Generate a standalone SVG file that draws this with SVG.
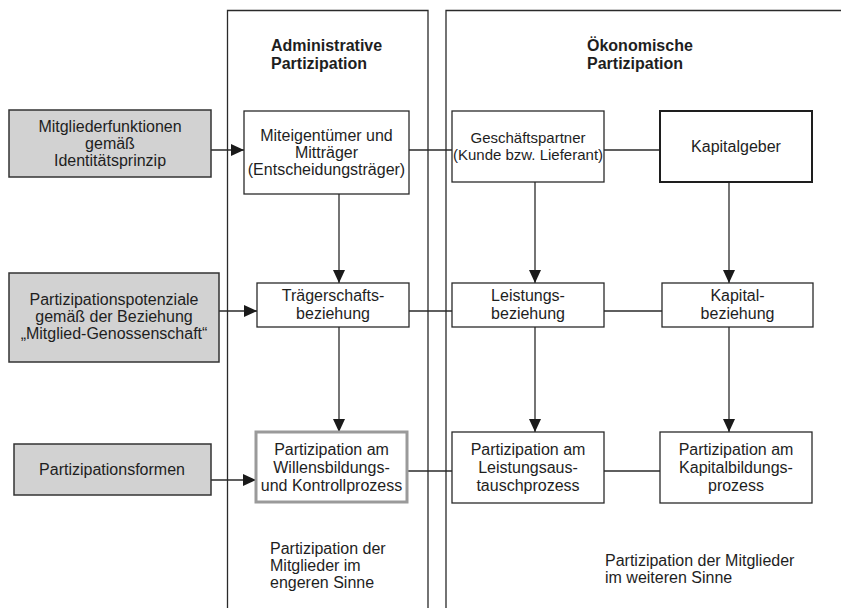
<svg xmlns="http://www.w3.org/2000/svg" width="841" height="608" viewBox="0 0 841 608">
  <style>
    text { font-family: "Liberation Sans", Arial, sans-serif; font-size: 16px; fill: #1e1e1e; }
    .c { text-anchor: middle; }
    .h { font-weight: bold; }
    .sm { font-size: 15px; }
    .panel { fill: none; stroke: #2a2a2a; stroke-width: 1.3; }
    .box { fill: #ffffff; stroke: #2a2a2a; stroke-width: 1.3; }
    .boxb { fill: #ffffff; stroke: #1e1e1e; stroke-width: 2; }
    .boxg { fill: #ffffff; stroke: #9a9a9a; stroke-width: 3; }
    .grey { fill: #d2d2d2; stroke: #333333; stroke-width: 1.5; }
    .ln { fill: none; stroke: #2a2a2a; stroke-width: 1.3; }
    .ar { fill: none; stroke: #2a2a2a; stroke-width: 1.3; marker-end: url(#head); }
  </style>
  <defs>
    <marker id="head" markerUnits="userSpaceOnUse" markerWidth="14" markerHeight="12" refX="13" refY="6" orient="auto">
      <path d="M0,0 L13,6 L0,12 Z" fill="#1a1a1a"/>
    </marker>
  </defs>

  <rect width="841" height="608" fill="#ffffff"/>

  <!-- column frames -->
  <g id="panels">
    <path class="panel" d="M227.5,610 V10.5 H428 V610"/>
    <path class="panel" d="M446,610 V10.5 H845"/>
    <text class="h" x="271" y="51">Administrative</text>
    <text class="h" x="271" y="69">Partizipation</text>
    <text class="h" x="587" y="51">Ökonomische</text>
    <text class="h" x="587" y="69">Partizipation</text>
    <text x="270" y="554">Partizipation der</text>
    <text x="270" y="571">Mitglieder im</text>
    <text x="270" y="588">engeren Sinne</text>
    <text x="605" y="566">Partizipation der Mitglieder</text>
    <text x="605" y="583">im weiteren Sinne</text>
  </g>

  <!-- connectors -->
  <g id="connectors">
    <line class="ar" x1="211" y1="150" x2="244" y2="150"/>
    <line class="ar" x1="219" y1="311" x2="257" y2="311"/>
    <line class="ar" x1="211" y1="480" x2="256" y2="480"/>

    <line class="ln" x1="409" y1="150" x2="452" y2="150"/>
    <line class="ln" x1="604" y1="150" x2="660" y2="150"/>
    <line class="ln" x1="409" y1="311" x2="452" y2="311"/>
    <line class="ln" x1="604" y1="311" x2="662" y2="311"/>
    <line class="ln" x1="407" y1="471" x2="452" y2="471"/>
    <line class="ln" x1="604" y1="471" x2="660" y2="471"/>

    <line class="ar" x1="339" y1="194" x2="339" y2="283"/>
    <line class="ar" x1="339" y1="327" x2="339" y2="432"/>
    <line class="ar" x1="535" y1="182" x2="535" y2="283"/>
    <line class="ar" x1="535" y1="327" x2="535" y2="432"/>
    <line class="ar" x1="729" y1="182" x2="729" y2="283"/>
    <line class="ar" x1="729" y1="327" x2="729" y2="432"/>
  </g>

  <!-- left labels -->
  <g id="mitgliederfunktionen">
    <rect class="grey" x="9" y="110" width="202" height="67"/>
    <text class="c" x="110" y="132">Mitgliederfunktionen</text>
    <text class="c" x="110" y="149">gemäß</text>
    <text class="c" x="110" y="166">Identitätsprinzip</text>
  </g>
  <g id="partizipationspotenziale">
    <rect class="grey" x="9" y="273" width="210" height="89"/>
    <text class="c" x="114" y="305">Partizipationspotenziale</text>
    <text class="c" x="114" y="322">gemäß der Beziehung</text>
    <text class="c" x="114" y="339">„Mitglied-Genossenschaft“</text>
  </g>
  <g id="partizipationsformen">
    <rect class="grey" x="14" y="444" width="197" height="51"/>
    <text class="c" x="112" y="475">Partizipationsformen</text>
  </g>

  <!-- row 1 -->
  <g id="miteigentuemer">
    <rect class="box" x="244" y="111" width="165" height="83"/>
    <text class="c" x="326.5" y="141">Miteigentümer und</text>
    <text class="c" x="326.5" y="158">Mitträger</text>
    <text class="c" x="326.5" y="175">(Entscheidungsträger)</text>
  </g>
  <g id="geschaeftspartner">
    <rect class="box" x="452" y="111" width="152" height="71"/>
    <text class="c sm" x="528" y="143">Geschäftspartner</text>
    <text class="c sm" x="528" y="160">(Kunde bzw. Lieferant)</text>
  </g>
  <g id="kapitalgeber">
    <rect class="boxb" x="660" y="111" width="152" height="71"/>
    <text class="c" x="736" y="152">Kapitalgeber</text>
  </g>

  <!-- row 2 -->
  <g id="traegerschaftsbeziehung">
    <rect class="box" x="257" y="283" width="152" height="44"/>
    <text class="c" x="333" y="301">Trägerschafts-</text>
    <text class="c" x="333" y="319">beziehung</text>
  </g>
  <g id="leistungsbeziehung">
    <rect class="box" x="452" y="283" width="152" height="44"/>
    <text class="c" x="528" y="301">Leistungs-</text>
    <text class="c" x="528" y="319">beziehung</text>
  </g>
  <g id="kapitalbeziehung">
    <rect class="box" x="662" y="283" width="151" height="44"/>
    <text class="c" x="737.5" y="301">Kapital-</text>
    <text class="c" x="737.5" y="319">beziehung</text>
  </g>

  <!-- row 3 -->
  <g id="willensbildung">
    <rect class="boxg" x="256" y="432" width="151" height="70"/>
    <text class="c" x="331.5" y="455">Partizipation am</text>
    <text class="c" x="331.5" y="473">Willensbildungs-</text>
    <text class="c" x="331.5" y="491">und Kontrollprozess</text>
  </g>
  <g id="leistungsaustausch">
    <rect class="box" x="452" y="432" width="152" height="71"/>
    <text class="c" x="528" y="455">Partizipation am</text>
    <text class="c" x="528" y="473">Leistungsaus-</text>
    <text class="c" x="528" y="491">tauschprozess</text>
  </g>
  <g id="kapitalbildung">
    <rect class="box" x="660" y="432" width="152" height="71"/>
    <text class="c" x="736" y="455">Partizipation am</text>
    <text class="c" x="736" y="473">Kapitalbildungs-</text>
    <text class="c" x="736" y="491">prozess</text>
  </g>
</svg>
